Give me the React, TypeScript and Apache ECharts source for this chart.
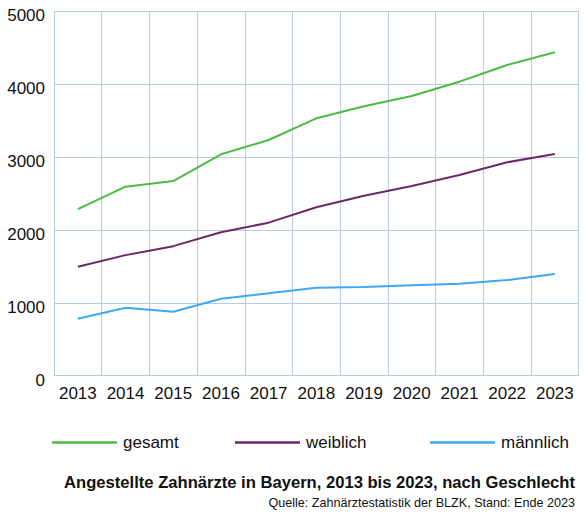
import React, { useEffect, useRef } from "react";
import * as echarts from "echarts";

const years = ["2013", "2014", "2015", "2016", "2017", "2018", "2019", "2020", "2021", "2022", "2023"];
const gesamt = [2285, 2591, 2669, 3035, 3231, 3529, 3693, 3835, 4031, 4260, 4434];
const weiblich = [1494, 1653, 1776, 1966, 2098, 2310, 2468, 2600, 2752, 2926, 3040];
const maennlich = [782, 932, 877, 1056, 1130, 1207, 1216, 1240, 1261, 1312, 1395];
const titleText = "Angestellte Zahnärzte in Bayern, 2013 bis 2023, nach Geschlecht";
const sourceText = "Quelle: Zahnärztestatistik der BLZK, Stand: Ende 2023";

const FONT = "'Liberation Sans', Arial, Helvetica, sans-serif";
const GRID_COLOR = "#b9c9e8";
const GREEN = "#4cbb44";
const PURPLE = "#6a2a63";
const BLUE = "#3ea8f4";

export default function App() {
  const ref = useRef<HTMLDivElement>(null);
  useEffect(() => {
    document.body.style.margin = "0";
    const chart = echarts.init(ref.current!, undefined, { renderer: "svg" });
    const legendBase = {
      top: 429,
      icon: "rect",
      itemWidth: 65,
      itemHeight: 2.5,
      itemGap: 0,
      textStyle: { fontFamily: FONT, fontSize: 17, color: "#111", padding: [0, 0, 0, 1] },
      selectedMode: false,
    };
    chart.setOption({
      animation: false,
      textStyle: { fontFamily: FONT },
      title: [
        {
          text: titleText,
          right: 4,
          top: 469,
          textStyle: { fontFamily: FONT, fontSize: 16.6, fontWeight: "bold", color: "#111" },
        },
        {
          text: sourceText,
          right: 4,
          top: 491,
          textStyle: { fontFamily: FONT, fontSize: 12.6, fontWeight: "normal", color: "#111" },
        },
      ],
      legend: [
        { ...legendBase, left: 47, data: ["gesamt"] },
        { ...legendBase, left: 230, data: ["weiblich"] },
        { ...legendBase, left: 425, data: ["männlich"] },
      ],
      grid: { left: 54, top: 11, right: 5.3, bottom: 141.3, containLabel: false },
      xAxis: {
        type: "category",
        data: years,
        boundaryGap: true,
        axisLine: { show: true, lineStyle: { color: GRID_COLOR, width: 1 } },
        axisTick: { show: false },
        splitLine: { show: true, lineStyle: { color: GRID_COLOR, width: 1 } },
        axisLabel: { fontFamily: FONT, fontSize: 17, color: "#111", margin: 9, interval: 0 },
      },
      yAxis: {
        type: "value",
        min: 0,
        max: 5000,
        interval: 1000,
        axisLine: { show: true, lineStyle: { color: GRID_COLOR, width: 1 } },
        axisTick: { show: false },
        splitLine: { show: true, lineStyle: { color: GRID_COLOR, width: 1 } },
        axisLabel: {
          fontFamily: FONT,
          fontSize: 17,
          color: "#111",
          margin: 9,
          verticalAlign: "top",
          lineHeight: 9,
          formatter: (v: number) => String(v),
        },
      },
      series: [
        { name: "gesamt", type: "line", data: gesamt, symbol: "none", color: GREEN, lineStyle: { width: 2, color: GREEN } },
        { name: "weiblich", type: "line", data: weiblich, symbol: "none", color: PURPLE, lineStyle: { width: 2, color: PURPLE } },
        { name: "männlich", type: "line", data: maennlich, symbol: "none", color: BLUE, lineStyle: { width: 2, color: BLUE } },
      ],
    });
    return () => chart.dispose();
  }, []);
  return <div ref={ref} style={{ width: 584, height: 517 }} />;
}
